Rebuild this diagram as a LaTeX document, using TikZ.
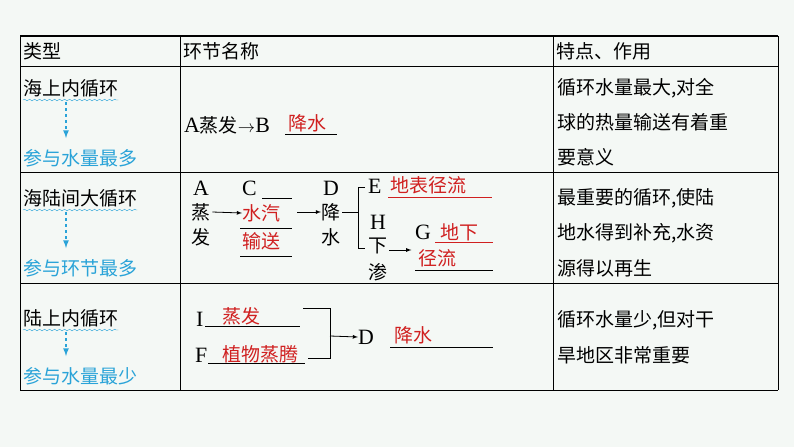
\documentclass[tikz,border=0pt]{standalone}
\usepackage{fontspec}
\setmainfont{Noto Sans CJK SC}
\newfontfamily\latinfont[Scale=1.15]{Liberation Serif}
\usetikzlibrary{arrows,decorations.pathmorphing}
\definecolor{bg}{HTML}{F4F8F5}
\definecolor{ans}{HTML}{D02020}
\definecolor{hint}{HTML}{2AA3D8}
\tikzset{
  txt/.style={inner sep=0pt, anchor=west, font=\fontsize{19}{19}\selectfont},
  red/.style={txt, text=ans},
  tip/.style={txt, text=hint},
  ul/.style={ans, line width=0.8pt},
  ln/.style={line width=0.8pt},
}
\begin{document}
\begin{tikzpicture}[x=1pt,y=-1pt,>=latex]
	\fill[bg] (0,0) rectangle (794,447);
	\useasboundingbox (0,0) rectangle (794,447);
	% table
	\draw[line width=1.4pt] (20,36) -- (778,36);
	\foreach \y in {66,172,283,390} \draw[ln] (20,\y) -- (778,\y);
	\foreach \x in {20,180,553,778} \draw[ln] (\x,36) -- (\x,390);
	% header
	\node[txt] (h1) at (23,51) {类型};
	\node[txt] (h2) at (183,51) {环节名称};
	\node[txt] (h3) at (556,51) {特点、作用};
	% left column
	\foreach \y/\a/\b/\n/\d in {88/海上内循环/参与水量最多/r1/70, 198/海陆间大循环/参与环节最多/r2/70, 318/陆上内循环/参与水量最少/r3/58}{
		\node[txt] (\n top) at (23,\y) {\a};
		\draw[hint, decorate, decoration={snake,amplitude=0.8pt,segment length=5pt}]
			([yshift=-3pt]\n top.south west) -- ([yshift=-3pt]\n top.south east);
		\node[tip] (\n bot) at (23,\y+\d) {\b};
		\draw[hint, dashed, line width=1.6pt, ->] (66,\y+14) -- (66,\y+\d-20);
	}
	% row 1
	\node[txt] (a1) at (184,125) {{\latinfont A}蒸发$\rightarrow${\latinfont B}};
	\node[red] (b1) at (288,123) {降水};
	\draw[ul, black] (285,134) -- (337,134);
	% row 2
	\node[txt] (a2) at (193,188) {\latinfont A};
	\node[txt] (a2z) at (191,212) {蒸};
	\node[txt] (a2f) at (191,237) {发};
	\node[txt] (c2) at (242,188) {\latinfont C};
	\draw[ul, black] (262,198) -- (292,198);
	\node[red] (c2a) at (242,213) {水汽};
	\draw[ul, black] (240,228) -- (292,228);
	\node[red] (c2b) at (242,241) {输送};
	\draw[ul, black] (240,256) -- (292,256);
	\node[txt] (d2) at (323,188) {\latinfont D};
	\node[txt] (d2j) at (321,212) {降};
	\node[txt] (d2s) at (321,237) {水};
	\draw[ln, ->] (a2z.east) ++(2,0) -- (c2a.west);
	\draw[ln, ->] (297,212) -- (d2j.west);
	\draw[ln] (d2j.east) ++(2,0) -- (358,212);
	\draw[ln] (365,187) -- (358,187) -- (358,248) -- (365,248);
	\node[txt] (e2) at (368,186) {\latinfont E};
	\node[red] (e2t) at (390,185) {地表径流};
	\draw[ul] (388,197) -- (492,197);
	\node[txt] (h2h) at (370,222) {\latinfont H};
	\node[txt] (h2x) at (368,246) {下};
	\node[txt] (h2s) at (368,272) {渗};
	\node[txt] (g2) at (415,232) {\latinfont G};
	\node[red] (g2a) at (440,232) {地下};
	\draw[ul] (435,242) -- (493,242);
	\node[red] (g2b) at (418,258) {径流};
	\draw[ul, black] (415,270) -- (493,270);
	\draw[ln, ->] (h2x.east) ++(2,4) -- ++(22,0);
	% row 3
	\node[txt] (i3) at (196,319) {\latinfont I};
	\node[red] (i3t) at (222,316) {蒸发};
	\draw[ul, black] (205,326) -- (300,326);
	\node[txt] (f3) at (195,355) {\latinfont F};
	\node[red] (f3t) at (222,354) {植物蒸腾};
	\draw[ul, black] (208,363) -- (305,363);
	\draw[ln] (303,308) -- (330,308) -- (330,358) -- (308,358);
	\node[txt] (d3) at (358,337) {\latinfont D};
	\draw[ln, ->] (330,336) -- (d3.west);
	\node[red] (d3t) at (394,335) {降水};
	\draw[ul, black] (390,347) -- (493,347);
	% right column
	\node[txt] (t1a) at (557,88) {循环水量最大,对全};
	\node[txt] (t1b) at (557,122) {球的热量输送有着重};
	\node[txt] (t1c) at (557,157) {要意义};
	\node[txt] (t2a) at (557,198) {最重要的循环,使陆};
	\node[txt] (t2b) at (557,233) {地水得到补充,水资};
	\node[txt] (t2c) at (557,268) {源得以再生};
	\node[txt] (t3a) at (557,320) {循环水量少,但对干};
	\node[txt] (t3b) at (557,355) {旱地区非常重要};
\end{tikzpicture}
\end{document}
